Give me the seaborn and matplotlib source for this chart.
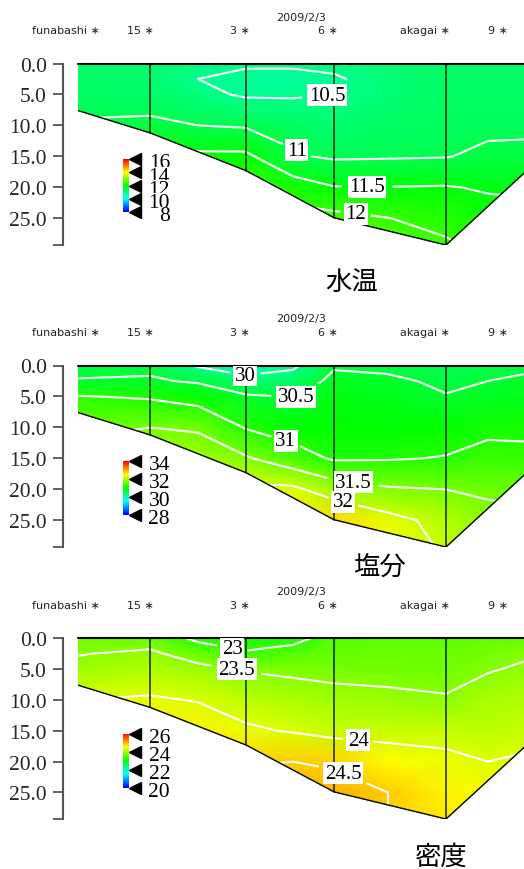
import numpy as np
import matplotlib
matplotlib.use("Agg")
import matplotlib.pyplot as plt
import seaborn as sns
from matplotlib.colors import Normalize

sns.set_theme(style="white")
plt.rcParams["font.family"] = ["DejaVu Sans"]

# ---------------- data ----------------
date_label = "2009/2/3"
station_names = ["funabashi", "15", "3", "6", "akagai", "9"]
station_x = [1.8, 7.2, 16.8, 25.6, 36.8, 42.6]      # distance along section
profile_stations = ["15", "3", "6", "akagai"]       # stations with vertical cast lines

bottom_x = [0.0, 7.2, 16.8, 25.6, 36.8, 44.6]
bottom_depth = [7.6, 11.2, 17.3, 24.9, 29.3, 17.7]

grid_x = [0.0, 7.2, 12.0, 16.8, 21.5, 25.6, 31.0, 36.8, 41.0, 44.6]
grid_depth = [0.0, 2.5, 5.0, 10.0, 15.0, 20.0, 25.0, 30.0]

temperature = [
    [10.80, 10.75, 10.60, 10.55, 10.55, 10.60, 10.72, 10.80, 10.80, 10.80],
    [10.80, 10.75, 10.50, 10.40, 10.40, 10.45, 10.67, 10.80, 10.80, 10.80],
    [10.83, 10.78, 10.60, 10.45, 10.45, 10.50, 10.72, 10.83, 10.83, 10.83],
    [11.05, 11.10, 11.00, 10.95, 10.85, 10.75, 10.82, 10.87, 10.90, 10.90],
    [11.30, 11.70, 11.60, 11.60, 11.05, 10.94, 10.96, 10.98, 11.10, 11.12],
    [11.80, 12.00, 12.00, 12.10, 11.75, 11.52, 11.51, 11.53, 11.45, 11.40],
    [12.20, 12.30, 12.30, 12.30, 12.20, 12.15, 12.01, 11.85, 11.70, 11.70],
    [12.40, 12.40, 12.40, 12.40, 12.40, 12.30, 12.20, 12.10, 11.90, 11.90],
]
salinity = [
    [30.40, 30.40, 29.95, 29.75, 29.92, 30.45, 30.40, 30.30, 30.35, 30.40],
    [30.52, 30.55, 30.45, 30.15, 30.20, 30.62, 30.58, 30.42, 30.50, 30.58],
    [31.02, 30.95, 30.80, 30.55, 30.48, 30.70, 30.65, 30.52, 30.60, 30.68],
    [31.40, 31.50, 31.45, 30.97, 30.80, 30.78, 30.78, 30.82, 30.90, 30.90],
    [31.70, 31.80, 31.75, 31.55, 31.20, 30.95, 30.97, 31.02, 31.15, 31.12],
    [32.00, 32.10, 32.10, 32.10, 32.10, 31.75, 31.55, 31.50, 31.45, 31.40],
    [32.30, 32.35, 32.40, 32.40, 32.40, 32.50, 32.15, 31.85, 31.60, 31.60],
    [32.50, 32.50, 32.50, 32.50, 32.50, 32.70, 32.30, 31.95, 31.70, 31.70],
]
density = [
    [23.35, 23.30, 22.90, 22.80, 22.85, 23.20, 23.25, 23.25, 23.28, 23.30],
    [23.48, 23.58, 23.30, 23.05, 23.20, 23.30, 23.32, 23.32, 23.40, 23.45],
    [23.62, 23.72, 23.62, 23.47, 23.42, 23.38, 23.36, 23.34, 23.47, 23.55],
    [24.00, 24.05, 23.98, 23.82, 23.70, 23.64, 23.60, 23.54, 23.70, 23.75],
    [24.25, 24.30, 24.25, 24.06, 23.97, 23.86, 23.87, 23.86, 23.80, 23.87],
    [24.45, 24.48, 24.48, 24.48, 24.50, 24.45, 24.20, 24.10, 24.00, 24.05],
    [24.58, 24.60, 24.62, 24.62, 24.62, 24.65, 24.50, 24.25, 24.15, 24.15],
    [24.60, 24.62, 24.64, 24.65, 24.66, 24.68, 24.50, 24.30, 24.20, 24.20],
]

temp_levels = [10.5, 11.0, 11.5, 12.0]
sal_levels = [30.0, 30.5, 31.0, 31.5, 32.0]
dens_levels = [23.0, 23.5, 24.0, 24.5]

temp_label_pos = [(25.1, 8.6), (21.6, 15.2), (28.9, 19.8), (27.9, 22.5)]
sal_label_pos = [(16.7, 1.9), (22.2, 6.4), (20.5, 13.8), (27.5, 19.4), (26.6, 21.5)]
dens_label_pos = [(15.4, 1.8), (15.8, 5.5), (27.9, 18.6), (26.4, 22.3)]

temp_cbar_ticks = [16, 14, 12, 10, 8]
sal_cbar_ticks = [34, 32, 30, 28]
dens_cbar_ticks = [26, 24, 22, 20]

panel_titles = ["水温", "塩分", "密度"]

# ---------------- style ----------------
W, H = 524, 870
cmap = sns.blend_palette(["#0000ff", "#00ffff", "#00ff00", "#ffff00", "#ff0000"], as_cmap=True)
SERIF = ["Liberation Serif", "DejaVu Serif"]

panels = [
    dict(values=temperature, levels=temp_levels, lpos=temp_label_pos, ticks=temp_cbar_ticks,
         crange=(8, 16), fill=(7.6, 15.6), top=64.5, bot=246.0, cb=(123, 160, 213),
         title=panel_titles[0], tpos=(352, 282)),
    dict(values=salinity, levels=sal_levels, lpos=sal_label_pos, ticks=sal_cbar_ticks,
         crange=(28, 34), fill=(27.8, 33.8), top=366.5, bot=548.0, cb=(123, 462, 516),
         title=panel_titles[1], tpos=(380, 567)),
    dict(values=density, levels=dens_levels, lpos=dens_label_pos, ticks=dens_cbar_ticks,
         crange=(20, 26), fill=(19.7, 25.7), top=639.3, bot=820.0, cb=(123, 735, 789),
         title=panel_titles[2], tpos=(441, 857)),
]

fig = plt.figure(figsize=(W / 100, H / 100), dpi=100)
X, Dg = np.meshgrid(grid_x, grid_depth)
ymax = 29.3
x_left, x_right = 78, 524
mask_x = np.r_[bottom_x[0] - 1, bottom_x, bottom_x[-1] + 1]
mask_d = np.r_[bottom_depth[0], bottom_depth, bottom_depth[-1]]

for p in panels:
    ax = fig.add_axes([x_left / W, 1 - p["bot"] / H, (x_right - x_left) / W, (p["bot"] - p["top"]) / H])
    V = np.array(p["values"])
    norm = Normalize(*p["fill"])
    ax.pcolormesh(X, Dg, V, shading="gouraud", cmap=cmap, norm=norm, zorder=1)
    cs = ax.contour(grid_x, grid_depth, V, levels=p["levels"], colors="white", linewidths=1.5, zorder=2)
    labels = ax.clabel(cs, levels=p["levels"], inline=True, inline_spacing=2, manual=p["lpos"],
                       fmt=lambda v: f"{v:g}", fontsize=15, colors="black")
    for t in labels:
        t.set_fontfamily(SERIF)
        t.set_rotation(0)
        t.set_bbox(dict(facecolor="white", edgecolor="none", pad=1.0))
        t.set_zorder(8)
    # sea-bottom mask
    ax.fill_between(mask_x, mask_d, 40, color="white", zorder=3, linewidth=0, clip_on=False)
    ax.plot(bottom_x, bottom_depth, color="black", lw=1.0, zorder=5)
    ax.plot([grid_x[0], grid_x[-1]], [0, 0], color="black", lw=1.5, zorder=5, clip_on=False)
    for name, sx in zip(station_names, station_x):
        if name in profile_stations:
            ax.plot([sx, sx], [0, np.interp(sx, bottom_x, bottom_depth)], color="black",
                    lw=1.1, alpha=0.85, zorder=4)
    ax.set_xlim(grid_x[0], grid_x[-1])
    ax.set_ylim(ymax, 0)
    for s in ["top", "right", "bottom"]:
        ax.spines[s].set_visible(False)
    ax.spines["left"].set_position(("outward", 11))
    ax.spines["left"].set_color("#555555")
    ax.spines["left"].set_linewidth(1.5)
    ax.spines["left"].set_zorder(9)
    ax.set_xticks([])
    ax.set_yticks([0, 5, 10, 15, 20, 25, ymax])
    ax.set_yticklabels(["0.0", "5.0", "10.0", "15.0", "20.0", "25.0", ""])
    ax.tick_params(axis="y", left=True, direction="out", length=7.5, width=1.3, color="#555555",
                   pad=4, labelsize=15.5)
    for t in ax.get_yticklabels():
        t.set_fontfamily(SERIF)
    ax.grid(False)
    ax.set_facecolor("none")
    # station labels and date
    for name, sx in zip(station_names, station_x):
        ax.annotate(f"{name} \u2217", xy=(sx, 1), xycoords=("data", "axes fraction"),
                    xytext=(4, 33), textcoords="offset pixels", ha="right", va="center",
                    fontsize=8, color="#222222", annotation_clip=False)
    ax.annotate(date_label, xy=(0.5, 1), xycoords="axes fraction", xytext=(0, 47),
                textcoords="offset pixels", ha="center", va="center", fontsize=8, color="#222222")

    # colour bar
    cx, cy0, cy1 = p["cb"]
    cax = fig.add_axes([cx / W, 1 - cy1 / H, 6 / W, (cy1 - cy0) / H])
    lo, hi = p["crange"]
    grad = np.linspace(lo, hi, 200).reshape(-1, 1)
    cax.imshow(grad, extent=(0, 6, lo, hi), origin="lower", aspect="auto", cmap=cmap,
               norm=Normalize(lo, hi))
    cax.set_xlim(0, 6)
    cax.set_ylim(lo, hi)
    cax.axis("off")
    for i, tv in enumerate(p["ticks"]):
        cax.plot([11.5], [tv], marker="<", ms=9, color="black", clip_on=False, zorder=2)
        cax.annotate(f"{tv}", xy=(47, tv), xycoords="data", xytext=(0, -4), textcoords="offset pixels",
                     ha="right", va="center", fontsize=15.5, family=SERIF, color="black",
                     annotation_clip=False, zorder=3 + i,
                     bbox=dict(facecolor="white", edgecolor="none", pad=0.0))
    fig.text(p["tpos"][0] / W, 1 - p["tpos"][1] / H, p["title"], ha="center", va="center",
             fontsize=19, family=["Noto Sans CJK JP", "DejaVu Sans"], color="black")

fig.savefig("out.png", dpi=100)
